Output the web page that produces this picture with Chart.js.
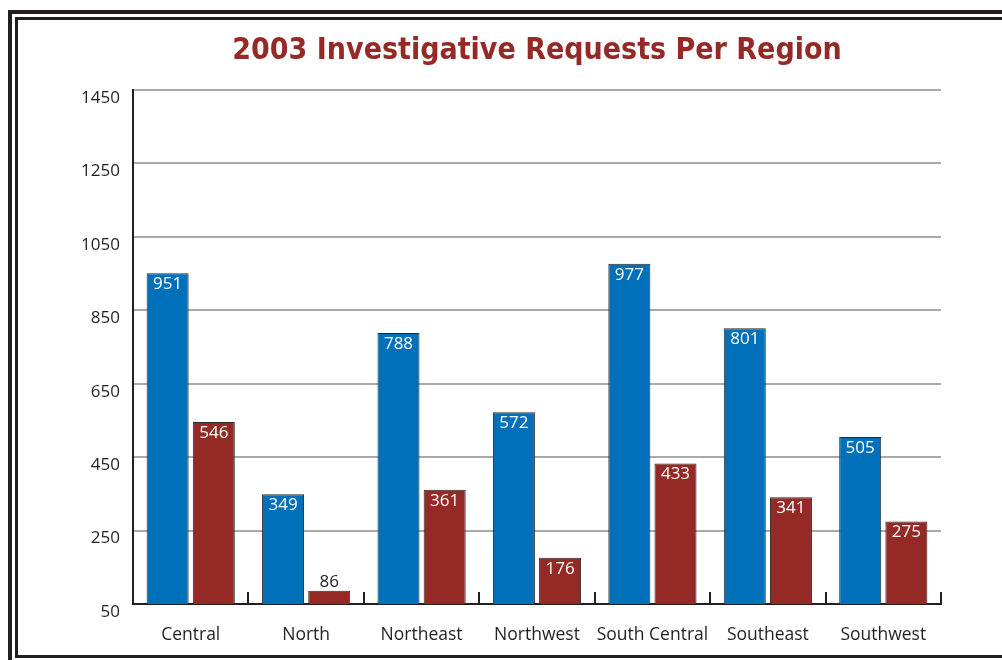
<!DOCTYPE html>
<html>
<head>
<meta charset="utf-8">
<script src="https://cdn.jsdelivr.net/npm/chart.js@4/dist/chart.umd.min.js"></script>
<style>
  html, body { margin: 0; padding: 0; background: #ffffff; overflow: hidden; }
  #wrap { position: relative; width: 1002px; height: 660px; overflow: hidden; }
  .frame-outer { position: absolute; left: 8px; top: 10px; width: 1100px; height: 800px; border: 4px solid #231f20; box-sizing: border-box; }
  .frame-inner { position: absolute; left: 15px; top: 17px; width: 1100px; height: 641px; border: 3px solid #231f20; box-sizing: border-box; }
  canvas { position: absolute; left: 0; top: 0; }
</style>
</head>
<body>
<div id="wrap">
  <div class="frame-outer"></div>
  <div class="frame-inner"></div>
  <canvas id="c" width="1002" height="660"></canvas>
</div>
<script>
const categories = ['Central', 'North', 'Northeast', 'Northwest', 'South Central', 'Southeast', 'Southwest'];
const seriesBlue = [951, 349, 788, 572, 977, 801, 505];
const seriesRed = [546, 86, 361, 176, 433, 341, 275];
const yTickValues = [50, 250, 450, 650, 850, 1050, 1250, 1450];
const titleText = '2003 Investigative Requests Per Region';

const labelFont = '"Open Sans", "Noto Sans", sans-serif';

const valueLabels = {
  id: 'valueLabels',
  afterDatasetsDraw(chart) {
    const ctx = chart.ctx;
    const bottom = chart.chartArea.bottom;
    ctx.save();
    ctx.font = '17px ' + labelFont;
    ctx.textAlign = 'center';
    ctx.textBaseline = 'middle';
    chart.data.datasets.forEach((ds, di) => {
      const meta = chart.getDatasetMeta(di);
      meta.data.forEach((bar, i) => {
        const h = Math.min(bar.base, bottom) - bar.y;
        const txt = String(ds.data[i]);
        if (h > 28) {
          ctx.fillStyle = '#ffffff';
          ctx.fillText(txt, bar.x, bar.y + 11);
        } else {
          ctx.fillStyle = '#231f20';
          ctx.fillText(txt, bar.x, bar.y - 9);
        }
      });
    });
    ctx.restore();
  }
};

new Chart(document.getElementById('c'), {
  type: 'bar',
  data: {
    labels: categories,
    datasets: [
      { data: seriesBlue, backgroundColor: '#0070ba', borderColor: '#2a2a2a', borderWidth: 1, barPercentage: 0.91, categoryPercentage: 0.8 },
      { data: seriesRed, backgroundColor: '#952926', borderColor: '#2a2a2a', borderWidth: 1, barPercentage: 0.91, categoryPercentage: 0.8 }
    ]
  },
  options: {
    responsive: false,
    animation: false,
    devicePixelRatio: 1,
    layout: { padding: { left: 72, right: 0, top: 0, bottom: 0 } },
    plugins: {
      legend: { display: false },
      tooltip: { enabled: false },
      title: {
        display: true,
        text: titleText,
        color: '#952926',
        font: { family: '"DejaVu Sans Condensed", "DejaVu Sans", sans-serif', weight: 'bold', size: 30, lineHeight: 1.2 },
        padding: { top: 33, bottom: 21 }
      }
    },
    scales: {
      x: {
        offset: true,
        grid: { offset: true, drawOnChartArea: false, drawTicks: true, tickLength: -12, color: '#231f20', lineWidth: 2 },
        border: { display: true, color: '#231f20', width: 2 },
        ticks: { color: '#231f20', font: { family: labelFont, size: 17.5 }, padding: 33, maxRotation: 0, autoSkip: false },
        afterFit(scale) { scale.height = 56; }
      },
      y: {
        min: 50,
        max: 1450,
        afterBuildTicks(scale) { scale.ticks = yTickValues.map(v => ({ value: v })); },
        grid: { color: '#a7a9ac', lineWidth: 2, drawTicks: false },
        border: { display: true, color: '#231f20', width: 2 },
        ticks: { color: '#231f20', font: { family: labelFont, size: 17 }, padding: 13, labelOffset: 8, callback: (v) => String(v) },
        afterFit(scale) { scale.width = 61; }
      },
      spacer: {
        type: 'linear',
        position: 'right',
        display: true,
        grid: { display: false, drawTicks: false },
        border: { display: false },
        ticks: { display: false },
        afterFit(scale) { scale.width = 61; }
      }
    }
  },
  plugins: [valueLabels]
});
</script>
</body>
</html>
